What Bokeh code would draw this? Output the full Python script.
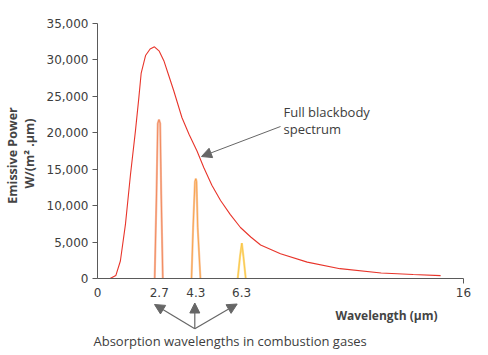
import math
from bokeh.plotting import figure
from bokeh.models import Range1d, FixedTicker, NumeralTickFormatter, Label, Arrow, NormalHead, LinearAxis
from bokeh.embed import file_html
from bokeh.resources import INLINE

# ---- data ----
bb_wl = [0.55, 0.8, 1.0, 1.22, 1.44, 1.66, 1.81, 1.91, 2.1, 2.3, 2.49, 2.7, 2.9, 3.1, 3.33,
         3.69, 4.0, 4.35, 4.65, 5.0, 5.38, 5.8, 6.25, 6.7, 7.13, 8.0, 9.17, 10.6, 12.4, 13.8, 15.0]
bb_power = [0, 400, 2400, 7400, 14200, 20300, 24900, 28200, 30600, 31500, 31800, 31200, 29900,
            28000, 25800, 22100, 19800, 17500, 15200, 12800, 10700, 8800, 7000, 5700, 4600,
            3400, 2250, 1350, 750, 550, 400]

band27_wl = [2.50, 2.58, 2.635, 2.688, 2.74, 2.785, 2.855]
band27_power = [0, 11600, 21300, 21800, 21300, 11600, 0]
band43_wl = [4.11, 4.18, 4.26, 4.30, 4.33, 4.38, 4.50]
band43_power = [0, 7000, 13300, 13700, 13300, 7000, 0]
band63_wl = [6.13, 6.23, 6.31, 6.38, 6.48]
band63_power = [0, 3000, 4850, 3000, 0]

x_ticks = [0, 2.7, 4.3, 6.3, 16]
y_ticks = [0, 5000, 10000, 15000, 20000, 25000, 30000, 35000]

X_MAX = 16
Y_MAX = 35000

FONT = "Open Sans"
TICK_FONT = "DejaVu Sans"
TXT = "#3d3d3d"
AX = "#5a5a5a"

W, H = 480, 352
# pixel position of the axes origin / extents on the canvas
X0_PX, X1_PX = 97.0, 463.0
Y0_PX, Y1_PX = 278.0, 23.0
sx = X_MAX / (X1_PX - X0_PX)
sy = Y_MAX / (Y0_PX - Y1_PX)

def X(px):
    return (px - X0_PX) * sx

def Y(py):
    return (Y0_PX - py) * sy

p = figure(width=W, height=H, output_backend="svg", toolbar_location=None,
           x_range=Range1d(X(0), X(W)), y_range=Range1d(Y(H), Y(0)),
           x_axis_type=None, y_axis_type=None,
           min_border_left=0, min_border_right=0, min_border_top=0, min_border_bottom=0)
p.outline_line_color = None
p.grid.visible = False
p.background_fill_color = "white"
p.border_fill_color = "white"

def style(ax):
    ax.axis_line_color = AX
    ax.major_tick_line_color = AX
    ax.minor_tick_line_color = None
    ax.major_label_text_font = TICK_FONT
    ax.major_label_text_font_size = "12px"
    ax.major_label_text_color = TXT

xaxis = LinearAxis(ticker=FixedTicker(ticks=x_ticks), fixed_location=0, bounds=(0, X_MAX),
                   major_tick_out=0, major_tick_in=0, major_label_standoff=9,
                   major_label_overrides={0: "0", 2.7: "2.7", 4.3: "4.3", 6.3: "6.3", 16: "16"})
style(xaxis)
p.add_layout(xaxis, "below")

xtick16 = LinearAxis(ticker=FixedTicker(ticks=[x_ticks[-1]]), fixed_location=0, bounds=(0, X_MAX),
                     major_tick_out=5, major_tick_in=0, major_label_text_alpha=0,
                     axis_line_color=None, major_tick_line_color=AX, minor_tick_line_color=None)
p.add_layout(xtick16, "below")

yaxis = LinearAxis(ticker=FixedTicker(ticks=y_ticks), fixed_location=0, bounds=(0, Y_MAX),
                   formatter=NumeralTickFormatter(format="0,0"),
                   major_tick_out=5, major_tick_in=0, major_label_standoff=4)
style(yaxis)
p.add_layout(yaxis, "left")

# blackbody curve
p.line(bb_wl, bb_power, line_color="#e8352b", line_width=1.1)

# absorption bands
for wl, pw, c1, c2 in [(band27_wl, band27_power, "#f7bda4", "#f0703a"),
                       (band43_wl, band43_power, "#f9c8a6", "#f7931e"),
                       (band63_wl, band63_power, "#fcdc8a", "#f8bd2a")]:
    p.line(wl, pw, line_color=c1, line_width=2.2)
    p.line(wl, pw, line_color=c2, line_width=0.8, line_alpha=0.8)

# annotations
def label(x, y, text, **kw):
    opts = dict(text_font=FONT, text_font_size="13px", text_color=TXT,
                text_baseline="middle")
    opts.update(kw)
    p.add_layout(Label(x=x, y=y, text=text, **opts))

label(X(283), Y(111), "Full blackbody")
label(X(283), Y(128), "spectrum")

head = dict(size=10, fill_color="#666666", line_color="#666666")
p.add_layout(Arrow(end=NormalHead(**head), x_start=X(280), y_start=Y(126),
                   x_end=X(201), y_end=Y(156), line_color="#666666", line_width=1))

for tx, ty in [(154, 304), (194.3, 302.5), (236.7, 303.5)]:
    p.add_layout(Arrow(end=NormalHead(**head), x_start=X(194.3), y_start=Y(328.3),
                       x_end=X(tx), y_end=Y(ty), line_color="#666666", line_width=1.2))

label(X(93), Y(340), "Absorption wavelengths in combustion gases")

label(X(386), Y(315), "Wavelength (\u00b5m)", text_align="center", text_font_size="12px",
      text_font_style="bold", text_color="#444444")

label(X(12), Y(155), "Emissive Power", text_align="center", angle=math.pi / 2,
      text_font_size="12.5px", text_font_style="bold", text_color="#444444")
label(X(29), Y(153), "W/(m\u00b2 .\u00b5m)", text_align="center", angle=math.pi / 2,
      text_font_size="12.5px", text_font_style="bold", text_color="#444444")

open("out.html", "w").write(file_html(p, INLINE))
